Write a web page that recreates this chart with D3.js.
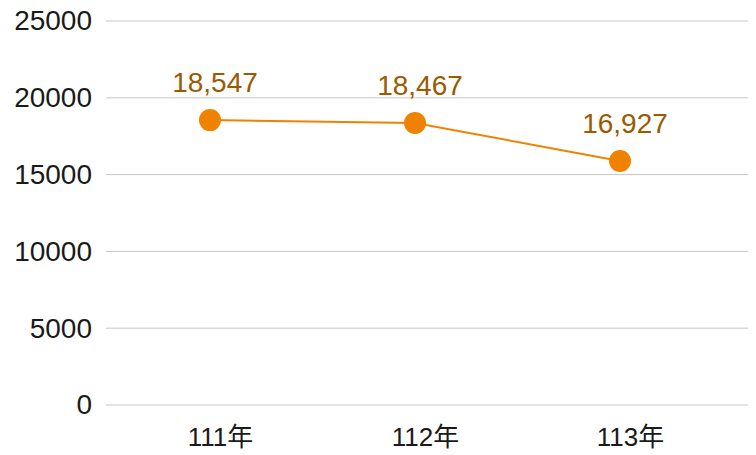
<!DOCTYPE html>
<html>
<head>
<meta charset="utf-8">
<script src="https://cdn.jsdelivr.net/npm/d3@7"></script>
<style>
  body { margin: 0; background: #fff; }
  svg { display: block; }
</style>
</head>
<body>
<svg id="chart" width="756" height="455"></svg>
<script>
// chart data
const years = ["111年", "112年", "113年"];
const pointValues = [18547, 18360, 15890];       // where the dots sit in the picture
const labelTexts = ["18,547", "18,467", "16,927"]; // printed labels
const yTicks = [0, 5000, 10000, 15000, 20000, 25000];

const svg = d3.select("#chart");
const width = +svg.attr("width");
const height = +svg.attr("height");

const margin = { top: 21, right: 8, bottom: 50, left: 106 };
const latin = "'Liberation Sans', Arial, sans-serif";
const cjk = "'Liberation Sans', 'Noto Sans CJK TC', sans-serif";

const x = d3.scalePoint()
    .domain(years)
    .range([210, 620]);

const y = d3.scaleLinear()
    .domain([0, 25000])
    .range([height - margin.bottom, margin.top]);

// gridlines
svg.append("g")
    .selectAll("line")
    .data(yTicks)
    .join("line")
    .attr("x1", margin.left)
    .attr("x2", width - margin.right)
    .attr("y1", d => y(d))
    .attr("y2", d => y(d))
    .attr("stroke", "#c6c6c6")
    .attr("stroke-width", 1);

// y axis labels
svg.append("g")
    .attr("transform", `translate(92,0)`)
    .call(d3.axisLeft(y).tickValues(yTicks).tickSize(0).tickPadding(0).tickFormat(d => d))
    .call(g => g.select(".domain").remove())
    .selectAll("text")
    .attr("font-family", latin)
    .attr("font-size", 28)
    .attr("fill", "#1a1a1a");

// x axis labels
svg.append("g")
    .attr("transform", `translate(10,${height - margin.bottom})`)
    .call(d3.axisBottom(x).tickSize(0).tickPadding(23))
    .call(g => g.select(".domain").remove())
    .selectAll("text")
    .attr("font-family", cjk)
    .attr("font-size", 26)
    .attr("fill", "#1a1a1a");

// line
const line = d3.line()
    .x((d, i) => x(years[i]))
    .y(d => y(d));

svg.append("path")
    .datum(pointValues)
    .attr("d", line)
    .attr("fill", "none")
    .attr("stroke", "#ef8200")
    .attr("stroke-width", 2);

// dots
svg.append("g")
    .selectAll("circle")
    .data(pointValues)
    .join("circle")
    .attr("cx", (d, i) => x(years[i]))
    .attr("cy", d => y(d))
    .attr("r", 11)
    .attr("fill", "#ef8200");

// value labels
svg.append("g")
    .selectAll("text")
    .data(pointValues)
    .join("text")
    .attr("x", (d, i) => x(years[i]) + 5)
    .attr("y", d => y(d) - 28)
    .attr("text-anchor", "middle")
    .attr("font-family", latin)
    .attr("font-size", 28)
    .attr("fill", "#9c5a00")
    .text((d, i) => labelTexts[i]);
</script>
</body>
</html>
